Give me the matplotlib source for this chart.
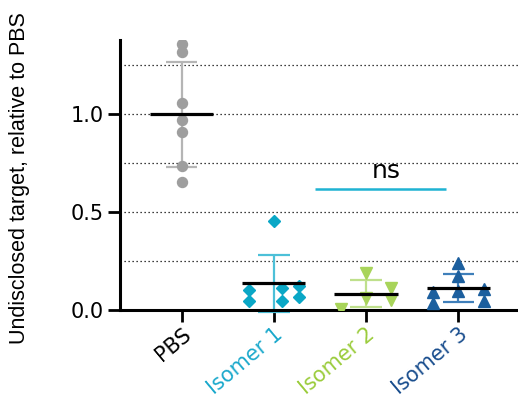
import numpy as np
import matplotlib
matplotlib.use("Agg")
import matplotlib.pyplot as plt

# Group labels and per-animal measurements (relative to PBS)
groups = ["PBS", "Isomer 1", "Isomer 2", "Isomer 3"]
pbs_values = [1.36, 1.315, 1.055, 0.97, 0.91, 0.735, 0.655]
iso1_values = [0.456, 0.102, 0.046, 0.111, 0.047, 0.122, 0.066]
iso2_values = [0.19, 0.06, 0.005, 0.111, 0.051]
iso3_values = [0.238, 0.173, 0.099, 0.094, 0.034, 0.105, 0.047]
y_ticks = [0.0, 0.5, 1.0]
y_tick_labels = ["0.0", "0.5", "1.0"]
sig_label = "ns"
sig_level = 0.62

# Horizontal scatter offsets inside each column
pbs_offsets = [0, 0, 0, 0, 0, 0, 0]
iso1_offsets = [0, -0.27, -0.27, 0.09, 0.09, 0.27, 0.27]
iso2_offsets = [0, 0, -0.27, 0.27, 0.27]
iso3_offsets = [0, 0, 0, -0.27, -0.27, 0.275, 0.275]

values = [pbs_values, iso1_values, iso2_values, iso3_values]
offsets = [pbs_offsets, iso1_offsets, iso2_offsets, iso3_offsets]
markers = ["o", "D", "v", "^"]
marker_sizes = [7.2, 6.0, 8.6, 8.6]
point_colors = ["#9e9e9e", "#0aa7c6", "#a8d45a", "#1c5f9e"]
err_colors = ["#b5b5b5", "#4cc0d8", "#bfe08c", "#3f7fba"]
label_colors = ["#000000", "#1ba9cc", "#9bcc3c", "#1a4e8e"]

plt.rcParams["font.family"] = ["DejaVu Sans"]

fig = plt.figure(figsize=(5.18, 3.99), dpi=100)
ax = fig.add_axes([120 / 518, 89 / 399, 1 - 120 / 518, (310 - 40) / 399])

ax.set_xlim(-0.669, 3.648)
ax.set_ylim(0, 1.378)

# Dotted horizontal guides every 0.25
for g in [0.25, 0.5, 0.75, 1.0, 1.25]:
    ax.axhline(g, color="black", lw=0.9, ls=(0, (1, 2.2)), zorder=0.5)

for i, (vals, offs) in enumerate(zip(values, offsets)):
    v = np.asarray(vals)
    m = v.mean()
    sd = v.std(ddof=1)
    # SD error bar
    ax.vlines(i, m - sd, m + sd, color=err_colors[i], lw=1.6, zorder=2, clip_on=False)
    ax.hlines([m - sd, m + sd], i - 0.17, i + 0.17, color=err_colors[i], lw=1.6,
              zorder=2, clip_on=False)
    # individual points
    ax.plot(i + np.asarray(offs), v, ls="none", marker=markers[i],
            ms=marker_sizes[i], color=point_colors[i], mec=point_colors[i], zorder=3)
    # mean line
    ax.hlines(m, i - 0.343, i + 0.343, color="black", lw=2.3, zorder=4)

# Significance bar between the isomers
ax.hlines(sig_level, 1.446, 2.867, color="#1fb3d3", lw=1.8, zorder=3)
ax.text(2.22, 0.673, sig_label, ha="center", va="baseline", fontsize=18)

for s in ["top", "right"]:
    ax.spines[s].set_visible(False)
for s in ["left", "bottom"]:
    ax.spines[s].set_linewidth(2.2)

ax.set_yticks(y_ticks)
ax.set_yticklabels(y_tick_labels, fontsize=15)
ax.set_xticks(range(len(groups)))
ax.set_xticklabels(groups, fontsize=15, rotation=40, ha="right", va="top",
                   rotation_mode="anchor")
for lbl, c in zip(ax.get_xticklabels(), label_colors):
    lbl.set_color(c)
ax.tick_params(axis="y", length=8.5, width=2.0, pad=3)
ax.tick_params(axis="x", length=8.5, width=2.0, pad=2)

ax.set_ylabel("Undisclosed target, relative to PBS", fontsize=15.5,
              family=["Liberation Sans", "DejaVu Sans"])
ax.yaxis.set_label_coords(-0.226, 0.49)

fig.savefig("out.png", dpi=100)
